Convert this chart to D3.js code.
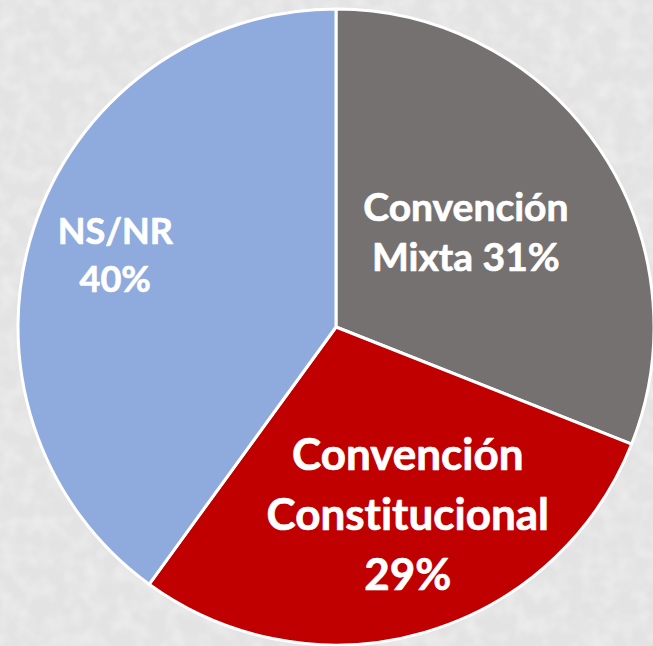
<!DOCTYPE html>
<html><head><meta charset="utf-8">
<script src="https://cdn.jsdelivr.net/npm/d3@7"></script>
<style>html,body{margin:0;padding:0;background:#e6e6e6;}svg{display:block;}
text{font-variant-ligatures:none;font-feature-settings:"liga" 0,"clig" 0;}</style>
</head><body>
<script>
const categories = ["Convención Mixta", "Convención Constitucional", "NS/NR"];
const values = [31, 29, 40];
const labelLines = [["Convención", "Mixta 31%"], ["Convención", "Constitucional", "29%"], ["NS/NR", "40%"]];
const colors = ["#767171", "#C00000", "#8FAADC"];

const W = 653, H = 646;
const cx = 336, cy = 327, R = 318;
const labelRadius = [0.49, 0.64, 0.73];
const labelShift = [[1, -7], [15, -8], [0, 0]];
const fontSizes = [39, 44, 36];
const lineHeights = [50, 60, 48];

const svg = d3.select("body").append("svg").attr("width", W).attr("height", H);
const defs = svg.append("defs");
const f = defs.append("filter").attr("id", "tex").attr("x", 0).attr("y", 0).attr("width", "100%").attr("height", "100%");
f.append("feTurbulence").attr("type", "fractalNoise").attr("baseFrequency", 0.06).attr("numOctaves", 2).attr("seed", 3).attr("result", "n");
f.append("feColorMatrix").attr("in", "n").attr("type", "matrix")
  .attr("values", "0 0 0 0 1  0 0 0 0 1  0 0 0 0 1  0 0 0 1.2 -0.45");
svg.append("rect").attr("width", W).attr("height", H).attr("fill", "#e3e3e3");
svg.append("rect").attr("width", W).attr("height", H).attr("filter", "url(#tex)").attr("opacity", 0.55);

const pie = d3.pie().sort(null).value(d => d)(values);
const arc = d3.arc().innerRadius(0).outerRadius(R);
const g = svg.append("g").attr("transform", `translate(${cx},${cy})`);
g.selectAll("path").data(pie).join("path")
  .attr("d", arc).attr("fill", (d, i) => colors[i])
  .attr("stroke", "#fff").attr("stroke-width", 3).attr("stroke-linejoin", "round");

pie.forEach((d, i) => {
  const a = (d.startAngle + d.endAngle) / 2;
  const r = R * labelRadius[i];
  const x = Math.sin(a) * r + labelShift[i][0], y = -Math.cos(a) * r + labelShift[i][1];
  const lines = labelLines[i];
  const fs = fontSizes[i], lh = lineHeights[i];
  const t = g.append("text").attr("text-anchor", "middle")
    .attr("font-family", "Lato, 'Open Sans', sans-serif").attr("font-weight", "bold")
    .attr("font-size", fs).attr("fill", "#fff")
    .attr("stroke", "#fff").attr("stroke-width", 0.7).attr("stroke-linejoin", "round");
  const y0 = y - (lines.length - 1) * lh / 2 + fs * 0.36;
  lines.forEach((s, k) => t.append("tspan").attr("x", x).attr("y", y0 + k * lh).text(s));
});
</script>
</body></html>
